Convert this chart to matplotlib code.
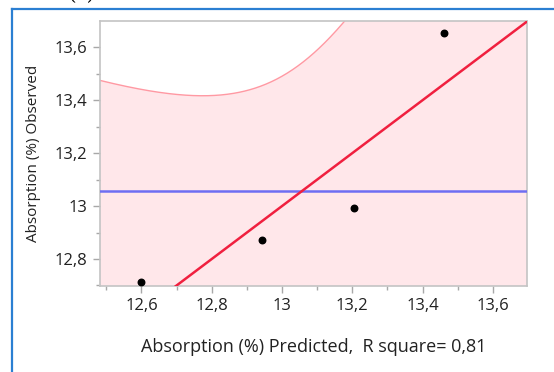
import numpy as np
import matplotlib
matplotlib.use("Agg")
import matplotlib.pyplot as plt
from matplotlib.lines import Line2D
from matplotlib.ticker import MultipleLocator, FuncFormatter

plt.rcParams["font.family"] = ["Open Sans", "DejaVu Sans"]

# Absorption (%) values: model prediction vs. measurement
predicted = [12.60, 12.944, 13.204, 13.46]
observed = [12.713, 12.870, 12.991, 13.654]
r_square = 0.81
t_crit = 4.303  # t(0.975, df=2)

pred = np.array(predicted)
obs = np.array(observed)
n = len(pred)
mean_obs = obs.mean()
xbar = pred.mean()
sxx = ((pred - xbar) ** 2).sum()
s = np.sqrt(((obs - pred) ** 2).sum() / (n - 2))

xlim = (12.482, 13.697)
ylim = (12.698, 13.699)

fig = plt.figure(figsize=(5.54, 3.72), dpi=100)
ax = fig.add_axes([100 / 554, 1 - 286 / 372, 427 / 554, 265 / 372])

# confidence curves around the fit line
xs = np.linspace(xlim[0], xlim[1], 400)
half = t_crit * s * np.sqrt(1 / n + (xs - xbar) ** 2 / sxx)
upper = xs + half
lower = xs - half
ax.fill_between(xs, lower, upper, color="#ffe7ea", lw=0, zorder=1)
ax.plot(xs, upper, color="#ff99a3", lw=1.0, zorder=2)
ax.plot(xs, lower, color="#ff99a3", lw=1.0, zorder=2)

# mean line and fit line
ax.axhline(mean_obs, color="#6e6ef2", lw=1.8, zorder=3)
ax.plot(xlim, xlim, color="#f0203f", lw=1.8, zorder=4)

ax.scatter(pred, obs, s=22, color="black", zorder=5, clip_on=False)

ax.set_xlim(*xlim)
ax.set_ylim(*ylim)

fmt = FuncFormatter(lambda v, p: f"{v:g}".replace(".", ","))
for axis in (ax.xaxis, ax.yaxis):
    axis.set_major_locator(MultipleLocator(0.2))
    axis.set_minor_locator(MultipleLocator(0.1))
    axis.set_major_formatter(fmt)

ax.tick_params(which="major", length=5, width=1, color="#a8a8a8",
               labelsize=12, labelcolor="#222222", pad=4)
ax.tick_params(which="minor", length=3, width=1, color="#a8a8a8")
for sp in ax.spines.values():
    sp.set_color("#c4c4c4")
    sp.set_linewidth(1.2)

ax.set_xlabel(f"Absorption (%) Predicted,  R square= {r_square:.2f}".replace(".", ","),
              fontsize=13, color="#222222", labelpad=17)
ax.set_ylabel("Absorption (%) Observed", fontsize=11, color="#222222", labelpad=10)

# frame of the panel
fig.add_artist(Line2D([12 / 554, 12 / 554], [0, 1 - 9 / 372], color="#2b7fd2", lw=1.6))
fig.add_artist(Line2D([12 / 554, 1], [1 - 9 / 372, 1 - 9 / 372], color="#2b7fd2", lw=1.6))
fig.text(68 / 554, 1.0, "(c)", fontsize=14, family="DejaVu Serif", va="baseline")

fig.savefig("out.png", dpi=100)
